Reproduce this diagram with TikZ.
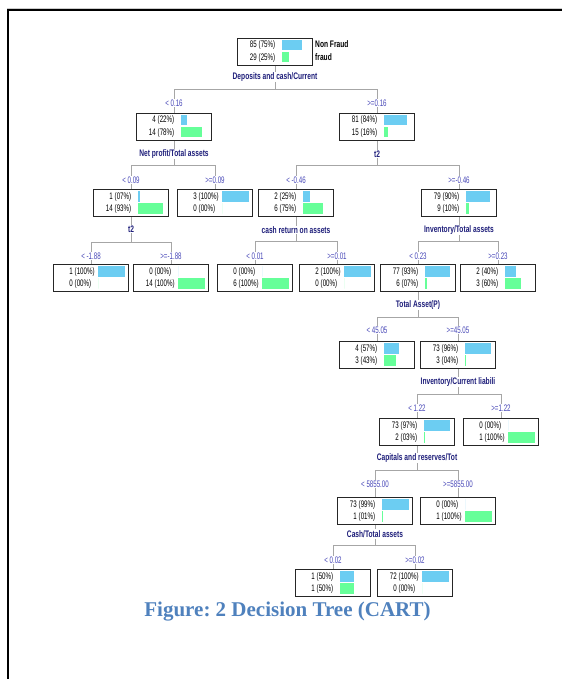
\documentclass[tikz,border=0pt]{standalone}
\usepackage{fontspec}
\newfontfamily\cellfont{Liberation Sans}[FakeStretch=0.65]
\newfontfamily\splitfont{Liberation Sans}[FakeStretch=0.7]
\newfontfamily\capfont{Liberation Serif}
\usetikzlibrary{positioning, calc}

\definecolor{nonfraud}{HTML}{6CCDF2}
\definecolor{fraud}{HTML}{66FF99}
\definecolor{splitcol}{HTML}{1E1E7A}
\definecolor{condcol}{HTML}{4848B8}
\definecolor{capcol}{HTML}{4F81BD}

\tikzset{
  cell/.style={draw=black!85, line width=1pt, fill=white, minimum width=75pt, minimum height=27pt, inner sep=0pt},
  cnt/.style={font=\cellfont\fontsize{9.5}{10}\selectfont, inner sep=0pt},
  link/.style={draw=black!35, line width=0.8pt},
  splitlbl/.style={font=\splitfont\bfseries\fontsize{9.5}{10}\selectfont, text=splitcol, fill=white, inner sep=1pt},
  condlbl/.style={font=\cellfont\fontsize{9.5}{10}\selectfont, text=condcol, fill=white, inner sep=1pt},
}

% box with counts, percentages and bars: name, position, n1, p1, n2, p2, bar1, bar2
\newcommand{\cartnode}[8]{%
  \node[cell, anchor=north] (#1) at #2 {};
  \node[cnt, anchor=base east] (#1-n1) at ([shift={(20,10)}]#1.north west) {#3};
  \node[cnt, anchor=base west] (#1-p1) at ([shift={(21.5,10)}]#1.north west) {(#4\%)};
  \node[cnt, anchor=base east] (#1-n2) at ([shift={(20,22.5)}]#1.north west) {#5};
  \node[cnt, anchor=base west] (#1-p2) at ([shift={(21.5,22.5)}]#1.north west) {(#6\%)};
  \fill[nonfraud] ([shift={(45,2)}]#1.north west) rectangle ++(0.27*#7,10.5);
  \fill[fraud] ([shift={(45,14)}]#1.north west) rectangle ++(0.27*#8,10.5);
}

\begin{document}
\begin{tikzpicture}[x=1pt, y=-1pt]
  \useasboundingbox (0,0) rectangle (562,679);
  % frame
  \draw[black!20, line width=0.8pt] (7,8) -- (562,8);
  \draw[black, line width=2pt] (8.3,679) -- (8.3,10.5) -- (562,10.5);

  % boxes
  \cartnode{n1}{(275,38)}{85}{75}{29}{25}{75}{25}
  \cartnode{n2}{(174,113)}{4}{22}{14}{78}{22}{78}
  \cartnode{n3}{(377,113)}{81}{84}{15}{16}{84}{16}
  \cartnode{n4}{(131,189)}{1}{07}{14}{93}{7}{93}
  \cartnode{n5}{(215,189)}{3}{100}{0}{00}{100}{0}
  \cartnode{n8}{(296,189)}{2}{25}{6}{75}{25}{75}
  \cartnode{n9}{(459,189)}{79}{90}{9}{10}{90}{10}
  \cartnode{n6}{(91,264)}{1}{100}{0}{00}{100}{0}
  \cartnode{n7}{(171,264)}{0}{00}{14}{100}{0}{100}
  \cartnode{n10}{(255,264)}{0}{00}{6}{100}{0}{100}
  \cartnode{n11}{(337,264)}{2}{100}{0}{00}{100}{0}
  \cartnode{n12}{(418,264)}{77}{93}{6}{07}{93}{7}
  \cartnode{n13}{(498,264)}{2}{40}{3}{60}{40}{60}
  \cartnode{n14}{(377,341)}{4}{57}{3}{43}{57}{43}
  \cartnode{n15}{(458,341)}{73}{96}{3}{04}{96}{4}
  \cartnode{n16}{(417,418)}{73}{97}{2}{03}{97}{3}
  \cartnode{n17}{(501,418)}{0}{00}{1}{100}{0}{100}
  \cartnode{n18}{(375,497)}{73}{99}{1}{01}{99}{1}
  \cartnode{n19}{(458,497)}{0}{00}{1}{100}{0}{100}
  \cartnode{n20}{(333,569)}{1}{50}{1}{50}{50}{50}
  \cartnode{n21}{(415,569)}{72}{100}{0}{00}{100}{0}

  % legend
  \node[cnt, font=\splitfont\bfseries\fontsize{9.5}{10}\selectfont, anchor=base west] (leg1) at ([shift={(2,10)}]n1.north east) {Non Fraud};
  \node[cnt, font=\splitfont\bfseries\fontsize{9.5}{10}\selectfont, anchor=base west] (leg2) at ([shift={(2,22.5)}]n1.north east) {fraud};

  % connectors
  \coordinate (j1) at (n1.south |- 0,89);
  \draw[link] (n1) -- (j1) -| (n2.north);
  \draw[link] (j1) -| (n3.north);
  \coordinate (j2) at (n2.south |- 0,165);
  \draw[link] (n2) -- (j2) -| (n4.north);
  \draw[link] (j2) -| (n5.north);
  \coordinate (j3) at (n3.south |- 0,165);
  \draw[link] (n3) -- (j3) -| (n8.north);
  \draw[link] (j3) -| (n9.north);
  \coordinate (j4) at (n4.south |- 0,242);
  \draw[link] (n4) -- (j4) -| (n6.north);
  \draw[link] (j4) -| (n7.north);
  \coordinate (j8) at (n8.south |- 0,241);
  \draw[link] (n8) -- (j8) -| (n10.north);
  \draw[link] (j8) -| (n11.north);
  \coordinate (j9) at (n9.south |- 0,241);
  \draw[link] (n9) -- (j9) -| (n12.north);
  \draw[link] (j9) -| (n13.north);
  \coordinate (j12) at (n12.south |- 0,317);
  \draw[link] (n12) -- (j12) -| (n14.north);
  \draw[link] (j12) -| (n15.north);
  \coordinate (j15) at (n15.south |- 0,394);
  \draw[link] (n15) -- (j15) -| (n16.north);
  \draw[link] (j15) -| (n17.north);
  \coordinate (j16) at (n16.south |- 0,470);
  \draw[link] (n16) -- (j16) -| (n18.north);
  \draw[link] (j16) -| (n19.north);
  \coordinate (j18) at (n18.south |- 0,545);
  \draw[link] (n18) -- (j18) -| (n20.north);
  \draw[link] (j18) -| (n21.north);

  % split variables
  \node[splitlbl] (s1) at (n1.south |- 0,77) {Deposits and cash/Current};
  \node[splitlbl] (s2) at (n2.south |- 0,154) {Net profit/Total assets};
  \node[splitlbl] (s3) at (n3.south |- 0,154) {t2};
  \node[splitlbl] (s4) at (n4.south |- 0,229) {t2};
  \node[splitlbl] (s8) at (n8.south |- 0,230) {cash return on assets};
  \node[splitlbl] (s9) at (n9.south |- 0,230) {Inventory/Total assets};
  \node[splitlbl] (s12) at (n12.south |- 0,305) {Total Asset(P)};
  \node[splitlbl] (s15) at (n15.south |- 0,382) {Inventory/Current liabili};
  \node[splitlbl] (s16) at (n16.south |- 0,458) {Capitals and reserves/Tot};
  \node[splitlbl] (s18) at (n18.south |- 0,534) {Cash/Total assets};

  % conditions
  \node[condlbl] (c2) at (n2.north |- 0,103) {< 0.16};
  \node[condlbl] (c3) at (n3.north |- 0,103) {>=0.16};
  \node[condlbl] (c4) at (n4.north |- 0,180) {< 0.09};
  \node[condlbl] (c5) at (n5.north |- 0,180) {>=0.09};
  \node[condlbl] (c8) at (n8.north |- 0,180) {< -0.46};
  \node[condlbl] (c9) at (n9.north |- 0,180) {>=-0.46};
  \node[condlbl] (c6) at (n6.north |- 0,256) {< -1.88};
  \node[condlbl] (c7) at (n7.north |- 0,256) {>=-1.88};
  \node[condlbl] (c10) at (n10.north |- 0,256) {< 0.01};
  \node[condlbl] (c11) at (n11.north |- 0,256) {>=0.01};
  \node[condlbl] (c12) at (n12.north |- 0,256) {< 0.23};
  \node[condlbl] (c13) at (n13.north |- 0,256) {>=0.23};
  \node[condlbl] (c14) at (n14.north |- 0,330) {< 45.05};
  \node[condlbl] (c15) at (n15.north |- 0,330) {>=45.05};
  \node[condlbl] (c16) at (n16.north |- 0,408) {< 1.22};
  \node[condlbl] (c17) at (n17.north |- 0,408) {>=1.22};
  \node[condlbl] (c18) at (n18.north |- 0,484) {< 5855.00};
  \node[condlbl] (c19) at (n19.north |- 0,484) {>=5855.00};
  \node[condlbl] (c20) at (n20.north |- 0,560) {< 0.02};
  \node[condlbl] (c21) at (n21.north |- 0,560) {>=0.02};

  % caption
  \node[font=\capfont\bfseries\fontsize{21}{24}\selectfont\frenchspacing, text=capcol, anchor=base, inner sep=0pt] (cap) at (287.5,616) {Figure: 2 Decision Tree (CART)};
\end{tikzpicture}
\end{document}
